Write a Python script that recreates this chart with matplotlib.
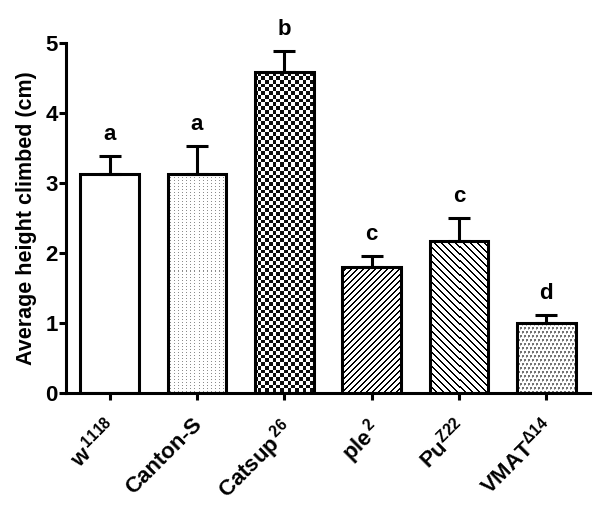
import numpy as np
import matplotlib
matplotlib.use("Agg")
import matplotlib.pyplot as plt
from matplotlib.transforms import ScaledTranslation

# ---- data ----
categories = [r"w$^{\,1118}$", "Canton-S", r"Catsup$^{\,26}$", r"ple$^{\,2}$", r"Pu$^{Z22}$", r"VMAT$^{\Delta 14}$"]
means = [3.13, 3.13, 4.59, 1.80, 2.17, 1.00]
sems = [0.26, 0.40, 0.30, 0.16, 0.33, 0.11]
letters = ["a", "a", "b", "c", "c", "d"]
yticks = [0, 1, 2, 3, 4, 5]

plt.rcParams["font.family"] = ["Liberation Sans", "DejaVu Sans"]
plt.rcParams["font.weight"] = "bold"
plt.rcParams["mathtext.fontset"] = "custom"
plt.rcParams["mathtext.rm"] = "Liberation Sans"
plt.rcParams["mathtext.it"] = "Liberation Sans"
plt.rcParams["mathtext.bf"] = "Liberation Sans:bold"

W, H, DPI = 600, 529, 100
fig = plt.figure(figsize=(W / DPI, H / DPI), dpi=DPI)
left_px, right_px, top_px, bot_px = 66, 590, 43, 393
ax = fig.add_axes([left_px / W, 1 - bot_px / H, (right_px - left_px) / W, (bot_px - top_px) / H])

x = np.arange(len(categories))
lw = 2.2
bars = ax.bar(x, means, width=0.67, facecolor="white", edgecolor="black", linewidth=lw, zorder=3)
for b in bars:
    b.set_facecolor("none")

ax.set_xlim(-0.5, 5.5)
ax.set_ylim(0, 5)

# textures (pixel grid of the axes)
aw, ah = right_px - left_px, bot_px - top_px
X, Y = np.meshgrid(np.arange(aw), np.arange(ah))

def tex_white():
    return np.ones((ah, aw))

def tex_dots_light():
    t = np.ones((ah, aw))
    m = (X % 4 == 0) & (Y % 3 == 0)
    t[m] = 0.55
    return t

def tex_checker():
    return (((np.floor(X / 3.75) + np.floor(Y / 3.75)) % 2) == 0).astype(float) * 0.95 + 0.05

def tex_fwd():
    t = np.ones((ah, aw))
    t[((X + Y) % 6) < 2] = 0.0
    return t

def tex_back():
    t = np.ones((ah, aw))
    t[((X - Y) % 7) < 2] = 0.0
    return t

def tex_dots_dark():
    t = np.ones((ah, aw))
    xs = (X + 2 * ((Y // 4) % 2)) % 4
    m = (xs < 2) & (Y % 4 < 2)
    t[m] = 0.45
    m2 = (xs == 0) & (Y % 4 == 2)
    t[m2] = 0.7
    return t

textures = [tex_white, tex_dots_light, tex_checker, tex_fwd, tex_back, tex_dots_dark]
for b, tf in zip(bars, textures):
    im = ax.imshow(tf(), cmap="gray", vmin=0, vmax=1, extent=(-0.5, 5.5, 0, 5),
                   origin="upper", interpolation="nearest", aspect="auto", zorder=2)
    im.set_clip_path(b)

ax.errorbar(x, means, yerr=[np.zeros(len(x)), sems], fmt="none", ecolor="black",
            elinewidth=lw, capsize=8, capthick=lw, zorder=4)

for xi, m, s, l in zip(x, means, sems, letters):
    ax.annotate(l, (xi, m + s), xytext=(0, 8), textcoords="offset points",
                ha="center", va="bottom", fontsize=16, fontweight="bold")

for sp in ["top", "right"]:
    ax.spines[sp].set_visible(False)
for sp in ["left", "bottom"]:
    ax.spines[sp].set_linewidth(lw)

ax.set_yticks(yticks)
ax.set_yticklabels([str(v) for v in yticks], fontsize=16, fontweight="bold")
ax.set_xticks(x)
ax.set_xticklabels(categories, fontsize=16, fontweight="bold", rotation=45,
                   ha="right", va="top", rotation_mode="anchor")
ax.tick_params(axis="both", width=lw, length=5, direction="out")
ax.tick_params(axis="x", pad=6)
ax.tick_params(axis="y", pad=1)
off = ScaledTranslation(-5 / DPI, -6 / DPI, fig.dpi_scale_trans)
for lab in ax.get_xticklabels():
    lab.set_transform(lab.get_transform() + off)
ax.set_ylabel("Average height climbed (cm)", fontsize=15.5, fontweight="bold", labelpad=6)

fig.savefig("out.png", dpi=DPI)
